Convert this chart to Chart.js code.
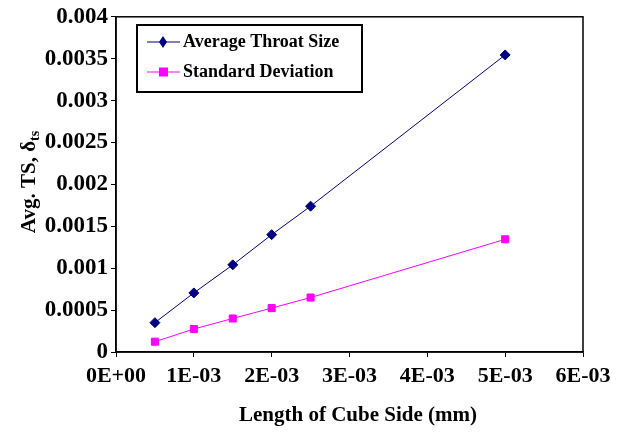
<!DOCTYPE html>
<html>
<head>
<meta charset="utf-8">
<script src="https://cdn.jsdelivr.net/npm/chart.js@4"></script>
<style>
  html, body { margin: 0; padding: 0; background: #fff; }
  #wrap { width: 623px; height: 432px; }
</style>
</head>
<body>
<div id="wrap"><canvas id="ch" width="623" height="432"></canvas></div>
<script>
const cubeSide = [0.0005, 0.001, 0.0015, 0.002, 0.0025, 0.005];
const avgThroat = [0.00035, 0.000705, 0.00104, 0.0014, 0.00174, 0.003545];
const stdDev = [0.000123, 0.000274, 0.0004, 0.000524, 0.00065, 0.001345];
const xTickLabels = ['0E+00', '1E-03', '2E-03', '3E-03', '4E-03', '5E-03', '6E-03'];
const yTickLabels = ['0', '0.0005', '0.001', '0.0015', '0.002', '0.0025', '0.003', '0.0035', '0.004'];

const FONT = '"Liberation Serif", "Times New Roman", serif';

// box round plot area, axis titles, legend with border
const extras = {
  id: 'extras',
  afterDraw(chart) {
    const c = chart.ctx, a = chart.chartArea;
    c.save();
    c.strokeStyle = '#000';
    c.lineWidth = 1.5;
    c.strokeRect(a.left, a.top, a.right - a.left, a.bottom - a.top);

    // x title
    c.fillStyle = '#000';
    c.font = 'bold 21px ' + FONT;
    c.textAlign = 'center';
    c.textBaseline = 'alphabetic';
    c.fillText('Length of Cube Side (mm)', 358, 421);

    // y title with subscript
    c.translate(35, 182);
    c.rotate(-Math.PI / 2);
    const main = 'Avg. TS, \u03b4', sub = 'ts';
    c.font = 'bold 21px ' + FONT;
    const w1 = c.measureText(main).width;
    c.font = 'bold 14px ' + FONT;
    const w2 = c.measureText(sub).width;
    let x0 = -(w1 + w2) / 2;
    c.textAlign = 'left';
    c.font = 'bold 21px ' + FONT;
    c.fillText(main, x0, 0);
    c.font = 'bold 14px ' + FONT;
    c.fillText(sub, x0 + w1, 4);
    c.setTransform(1, 0, 0, 1, 0, 0);

    // legend
    c.lineWidth = 2;
    c.strokeRect(137, 25, 225, 67);
    const rows = [42, 72];
    chart.data.datasets.forEach((ds, i) => {
      const y = rows[i];
      c.strokeStyle = ds.borderColor;
      c.lineWidth = 1;
      c.beginPath(); c.moveTo(147, y); c.lineTo(180, y); c.stroke();
      c.fillStyle = ds.backgroundColor;
      c.beginPath();
      if (ds.pointStyle === 'rectRot') {
        c.moveTo(163, y - 6); c.lineTo(167, y); c.lineTo(163, y + 6); c.lineTo(159, y);
      } else {
        c.rect(159, y - 4.5, 9, 9);
      }
      c.closePath(); c.fill();
      c.fillStyle = '#000';
      c.font = 'bold 18px ' + FONT;
      c.textAlign = 'left';
      c.textBaseline = 'middle';
      c.fillText(ds.label, 183, y);
    });
    c.restore();
  }
};

new Chart(document.getElementById('ch'), {
  type: 'scatter',
  data: {
    datasets: [
      {
        label: 'Average Throat Size',
        data: cubeSide.map((x, i) => ({ x: x, y: avgThroat[i] })),
        showLine: true,
        borderColor: '#000080',
        backgroundColor: '#000080',
        borderWidth: 1,
        pointStyle: 'rectRot',
        pointRadius: 5,
        pointHoverRadius: 5
      },
      {
        label: 'Standard Deviation',
        data: cubeSide.map((x, i) => ({ x: x, y: stdDev[i] })),
        showLine: true,
        borderColor: '#ff00ff',
        backgroundColor: '#ff00ff',
        borderWidth: 1,
        pointStyle: 'rect',
        pointRadius: 5,
        pointHoverRadius: 5
      }
    ]
  },
  options: {
    responsive: false,
    animation: false,
    layout: { padding: { top: 16, right: 40, left: 0, bottom: 0 } },
    plugins: {
      legend: { display: false },
      tooltip: { enabled: false }
    },
    scales: {
      x: {
        type: 'linear',
        min: 0,
        max: 0.006,
        ticks: {
          stepSize: 0.001,
          color: '#000',
          padding: 6,
          maxRotation: 0,
          font: { family: FONT, size: 22, weight: 'bold' },
          callback: (v, i) => xTickLabels[i]
        },
        grid: { drawOnChartArea: false, drawTicks: true, tickLength: 5, color: '#000', lineWidth: 1 },
        border: { display: true, color: '#000', width: 1.5 },
        afterFit: (s) => { s.height = 80; }
      },
      y: {
        min: 0,
        max: 0.004,
        ticks: {
          stepSize: 0.0005,
          color: '#000',
          padding: 3,
          font: { family: FONT, size: 23, weight: 'bold' },
          callback: (v, i) => yTickLabels[i]
        },
        grid: { drawOnChartArea: false, drawTicks: true, tickLength: 5, color: '#000', lineWidth: 1 },
        border: { display: true, color: '#000', width: 1.5 },
        afterFit: (s) => { s.width = 116; }
      }
    }
  },
  plugins: [extras]
});
</script>
</body>
</html>
